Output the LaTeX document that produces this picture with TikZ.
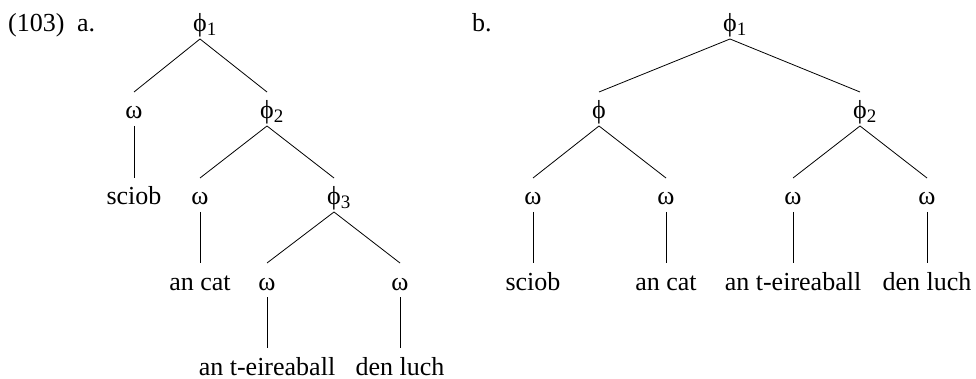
\documentclass[tikz,border=0pt]{standalone}
\usepackage{fontspec}
\setmainfont{Liberation Serif}
\newcommand{\sbs}[1]{\rlap{\raisebox{-0.14em}{\fontsize{19}{19}\selectfont #1}}}
\tikzset{
  lab/.style={anchor=base, inner sep=0pt, font=\fontsize{26}{30}\selectfont},
  edge/.style={line width=0.8pt},
}
\newcommand{\br}[2]{\draw[edge] ([yshift=-7pt]#1.base) -- ([yshift=27pt]#2.base);}
\begin{document}
\begin{tikzpicture}[x=1pt,y=-1pt]
\useasboundingbox (0,0) rectangle (976,379);
% labels
\node[lab, anchor=base west] (num) at (8,32) {(103)};
\node[lab, anchor=base west] (la) at (77,32) {a.};
\node[lab, anchor=base west] (lb) at (472,32) {b.};
% tree a
\node[lab] (a1) at (200,32) {ϕ\sbs{1}};
\node[lab] (aw) at (134,119) {ω};
\node[lab] (a2) at (267,119) {ϕ\sbs{2}};
\node[lab] (as) at (134,205) {sciob};
\node[lab] (aw2) at (200,205) {ω};
\node[lab] (a3) at (334,205) {ϕ\sbs{3}};
\node[lab] (ac) at (200,290) {an cat};
\node[lab] (aw3) at (267,290) {ω};
\node[lab] (aw4) at (400,290) {ω};
\node[lab] (at) at (267,375) {an t-eireaball};
\node[lab] (ad) at (400,375) {den luch};
\br{a1}{aw} \br{a1}{a2}
\br{aw}{as}
\br{a2}{aw2} \br{a2}{a3}
\br{aw2}{ac}
\br{a3}{aw3} \br{a3}{aw4}
\br{aw3}{at} \br{aw4}{ad}
% tree b
\node[lab] (b1) at (730,32) {ϕ\sbs{1}};
\node[lab] (bp) at (599,119) {ϕ};
\node[lab] (b2) at (860,119) {ϕ\sbs{2}};
\node[lab] (bw1) at (533,205) {ω};
\node[lab] (bw2) at (666,205) {ω};
\node[lab] (bw3) at (793,205) {ω};
\node[lab] (bw4) at (927,205) {ω};
\node[lab] (bs) at (533,290) {sciob};
\node[lab] (bc) at (666,290) {an cat};
\node[lab] (bt) at (793,290) {an t-eireaball};
\node[lab] (bd) at (927,290) {den luch};
\br{b1}{bp} \br{b1}{b2}
\br{bp}{bw1} \br{bp}{bw2}
\br{b2}{bw3} \br{b2}{bw4}
\br{bw1}{bs} \br{bw2}{bc} \br{bw3}{bt} \br{bw4}{bd}
\end{tikzpicture}
\end{document}
